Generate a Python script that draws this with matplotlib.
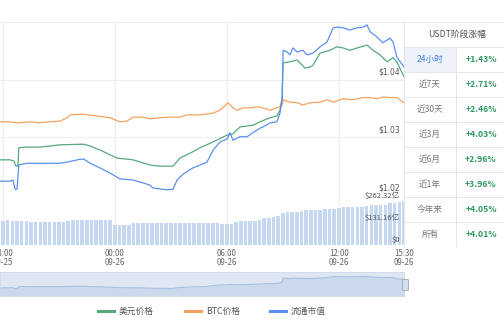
import matplotlib
matplotlib.use('Agg')
import matplotlib.dates as mdates
import matplotlib.pyplot as plt
import matplotlib.transforms as mtransforms
import pandas as pd
from matplotlib.patches import Rectangle, FancyBboxPatch

plt.rcParams['font.family'] = ['Noto Sans CJK SC', 'DejaVu Sans']

# --- Data ---
# minutes after 2018-09-25 18:00
usd_min = [-10, 22, 35, 42, 48, 51, 71, 119, 183, 248, 261, 280, 312, 367, 418, 473,
           505, 547, 569, 611, 634, 676, 721, 740, 762, 804, 827, 859, 881, 891, 898,
           901, 923, 946, 972, 988, 997, 1020, 1052, 1074, 1094, 1116, 1139, 1171,
           1190, 1213, 1235, 1255, 1267, 1290]
usd_price = [1.0261, 1.0261, 1.0259, 1.0250, 1.0250, 1.0282, 1.0283, 1.0283, 1.0287,
             1.0288, 1.0288, 1.0285, 1.0278, 1.0264, 1.0261, 1.0252, 1.0250, 1.0250,
             1.0264, 1.0275, 1.0282, 1.0292, 1.0304, 1.0306, 1.0318, 1.0321, 1.0327,
             1.0334, 1.0337, 1.0347, 1.0370, 1.0429, 1.0431, 1.0434, 1.0420, 1.0422,
             1.0425, 1.0446, 1.0451, 1.0457, 1.0455, 1.0451, 1.0455, 1.0460, 1.0451,
             1.0443, 1.0431, 1.0438, 1.0431, 1.0405]

btc_min = [-10, 22, 45, 97, 109, 151, 183, 206, 216, 257, 302, 344, 376, 399, 418, 450,
           473, 505, 528, 569, 592, 634, 676, 698, 724, 740, 753, 772, 795, 817, 836,
           859, 881, 898, 901, 923, 946, 965, 988, 1020, 1042, 1062, 1094, 1126, 1158,
           1181, 1203, 1222, 1245, 1267, 1290]
btc_price = [1.0327, 1.0327, 1.0325, 1.0327, 1.0325, 1.0327, 1.0328, 1.0334, 1.0339,
             1.0340, 1.0337, 1.0334, 1.0327, 1.0328, 1.0335, 1.0335, 1.0332, 1.0334,
             1.0335, 1.0335, 1.0339, 1.0339, 1.0342, 1.0347, 1.0360, 1.0351, 1.0347,
             1.0351, 1.0351, 1.0353, 1.0351, 1.0347, 1.0351, 1.0356, 1.0365, 1.0361,
             1.0360, 1.0356, 1.0360, 1.0361, 1.0365, 1.0361, 1.0367, 1.0365, 1.0369,
             1.0369, 1.0367, 1.0370, 1.0369, 1.0369, 1.0360]

cap_min = [-10, 22, 32, 39, 45, 51, 77, 119, 183, 206, 248, 261, 280, 312, 354, 376,
           418, 450, 473, 483, 528, 547, 560, 579, 611, 634, 656, 676, 698, 721, 730,
           740, 762, 785, 804, 827, 836, 859, 881, 891, 898, 901, 914, 923, 933, 946,
           965, 978, 997, 1020, 1042, 1062, 1074, 1094, 1116, 1139, 1158, 1171, 1181,
           1203, 1222, 1245, 1255, 1267, 1290]
cap_value = [1.0224, 1.0224, 1.0226, 1.0210, 1.0210, 1.0252, 1.0255, 1.0255, 1.0255,
             1.0257, 1.0262, 1.0262, 1.0255, 1.0247, 1.0235, 1.0228, 1.0226, 1.0221,
             1.0217, 1.0212, 1.0209, 1.0210, 1.0226, 1.0236, 1.0247, 1.0252, 1.0257,
             1.0278, 1.0292, 1.0297, 1.0308, 1.0295, 1.0301, 1.0301, 1.0308, 1.0316,
             1.0318, 1.0325, 1.0327, 1.0342, 1.0365, 1.0451, 1.0448, 1.0443, 1.0455,
             1.0448, 1.0451, 1.0443, 1.0446, 1.0457, 1.0465, 1.0490, 1.0491, 1.0490,
             1.0486, 1.0490, 1.0491, 1.0495, 1.0483, 1.0474, 1.0464, 1.0472, 1.0465,
             1.0439, 1.0422]

# bars every 15 minutes starting 17:45, in 亿 USD
bar_start_min = -15
bar_step_min = 15
bar_value = [146, 146, 147, 146, 146, 145, 146, 140, 139, 139, 139, 138, 139, 139, 140,
             141, 147, 148, 149, 149, 150, 149, 149, 149, 149, 119, 118, 119, 119, 131,
             133, 133, 134, 133, 133, 133, 133, 134, 134, 133, 133, 133, 133, 134, 133,
             132, 131, 131, 126, 125, 127, 140, 144, 146, 146, 145, 147, 158, 161, 166,
             170, 193, 196, 197, 199, 205, 207, 209, 209, 210, 212, 214, 216, 222, 224,
             226, 226, 227, 229, 235, 237, 238, 238, 240, 248, 252, 256, 262]

price_ticks = [1.02, 1.03, 1.04, 1.05]
bar_ticks = [0, 131.16, 262.32]
time_ticks_min = [0, 360, 720, 1080, 1290]

periods = ['24小时', '近7天', '近30天', '近3月', '近6月', '近1年', '今年来', '所有']
changes = [1.43, 2.71, 2.46, 4.03, 2.96, 3.96, 4.05, 4.01]

# --- Colors ---
c_green = '#55a97b'
c_orange = '#f5a25d'
c_blue = '#5b8ff0'
c_bar = '#c4d8f2'
c_grid = '#eeeeee'
c_text = '#666666'

base = pd.Timestamp('2018-09-25 18:00')


def to_time(minutes):
    return base + pd.to_timedelta(minutes, unit='min')


x_left = to_time(-9.65)
x_right = to_time(1290)

fig = plt.figure(figsize=(5.04, 3.21), dpi=100)
W, H = 504, 321


def px_axes(x0, y0, x1, y1):
    return fig.add_axes([x0 / W, 1 - y1 / H, (x1 - x0) / W, (y1 - y0) / H])


# --- Main price panel ---
ax = px_axes(0, 22, 404, 195)
ax.plot(to_time(btc_min), btc_price, color=c_orange, lw=0.9)
ax.plot(to_time(usd_min), usd_price, color=c_green, lw=0.9)
ax.plot(to_time(cap_min), cap_value, color=c_blue, lw=0.9)
ax.set_xlim(x_left, x_right)
ax.set_ylim(1.02, 1.05)
for v in price_ticks:
    ax.axhline(v, color=c_grid, lw=0.8, zorder=0)
for m in time_ticks_min[:-1]:
    ax.axvline(to_time(m), color=c_grid, lw=0.8, zorder=0)
trans = mtransforms.blended_transform_factory(ax.transAxes, ax.transData)
for v in price_ticks[:-1]:
    ax.annotate(f'${v:.2f}', xy=(1, v), xycoords=trans, xytext=(-3, 2),
                textcoords='offset points', ha='right', va='bottom',
                fontsize=5.5, color='#555555', family='DejaVu Sans')
ax.set_xticks([])
ax.set_yticks([])
for s in ax.spines.values():
    s.set_visible(False)
ax.patch.set_alpha(0)

# --- Bar panel ---
axb = px_axes(0, 195, 404, 245)
bar_times = to_time([bar_start_min + bar_step_min * i for i in range(len(bar_value))])
axb.bar(bar_times, bar_value, width=11.5 / 1440, color=c_bar, align='center')
axb.set_xlim(x_left, x_right)
axb.set_ylim(0, 298)
for m in time_ticks_min[:-1]:
    axb.axvline(to_time(m), color=c_grid, lw=0.8, zorder=0)
transb = mtransforms.blended_transform_factory(axb.transAxes, axb.transData)
bar_labels = ['$0', '$131.16亿', '$262.32亿']
for v, lab in zip(bar_ticks, bar_labels):
    axb.annotate(lab, xy=(1, v), xycoords=transb, xytext=(-3, 1),
                 textcoords='offset points', ha='right', va='bottom',
                 fontsize=5.5, color='#555555')
axb.set_yticks([])
axb.set_xticks(to_time(time_ticks_min))
axb.xaxis.set_major_formatter(mdates.DateFormatter('%H:%M\n%m-%d'))
axb.tick_params(axis='x', length=0, pad=3, labelsize=5.7, labelcolor=c_text)
for lab in axb.get_xticklabels():
    lab.set_linespacing(0.95)
for s in axb.spines.values():
    s.set_visible(False)
axb.patch.set_alpha(0)

# --- Navigator ---
axn = px_axes(0, 272, 404, 296)
axn.set_facecolor('#dfe7f2')
nav_t = to_time(cap_min)
axn.fill_between(nav_t, 1.003, cap_value, color='#cbd9ec', lw=0)
axn.plot(nav_t, cap_value, color='#a8bfdf', lw=0.8)
axn.set_xlim(x_left, x_right)
axn.set_ylim(1.003, 1.060)
axn.set_xticks([])
axn.set_yticks([])
for s in axn.spines.values():
    s.set_color('#d0d9e6')
    s.set_linewidth(0.6)
handle = FancyBboxPatch((403.5 / W, 1 - 290 / H), 4 / W, 10 / H,
                        boxstyle='round,pad=0.002', transform=fig.transFigure,
                        facecolor='#d2dceb', edgecolor='#98a8be', lw=0.6)
fig.patches.append(handle)

# --- Legend ---
leg_items = [('美元价格', c_green), ('BTC价格', c_orange), ('流通市值', c_blue)]
leg_x = [98, 185, 270]
for (name, col), x0 in zip(leg_items, leg_x):
    fig.add_artist(plt.Line2D([x0 / W, (x0 + 16) / W], [1 - 311 / H] * 2,
                              color=col, lw=2.2, transform=fig.transFigure))
    fig.text((x0 + 21) / W, 1 - 311 / H, name, fontsize=6.3, color='#555555',
             va='center', ha='left')

# --- Stage change table ---
axt = px_axes(404, 22, 504, 247)
nrows = len(periods) + 1
axt.set_xlim(0, 1)
axt.set_ylim(nrows, 0)
axt.axis('off')
col_split = 0.52
axt.add_patch(Rectangle((0, 1), col_split, 1, facecolor='#eef2fa', lw=0))
for r in range(nrows + 1):
    axt.plot([0, 1], [r, r], color='#e6e6e6', lw=0.7)
axt.plot([0, 0], [0, nrows], color='#e6e6e6', lw=0.7)
axt.plot([col_split, col_split], [1, nrows], color='#e6e6e6', lw=0.7)
axt.text(0.53, 0.5, 'USDT阶段涨幅', ha='center', va='center', fontsize=6.3,
         color='#555555')
for i, (p, c) in enumerate(zip(periods, changes)):
    y = i + 1.5
    axt.text(col_split / 2, y, p, ha='center', va='center', fontsize=6.2,
             color='#3f7fe0' if i == 0 else '#777777')
    axt.text(0.77, y, f'+{c:.2f}%', ha='center', va='center', fontsize=6.2,
             color='#2e9a62', fontweight='bold')

fig.savefig('out.png', dpi=100)
